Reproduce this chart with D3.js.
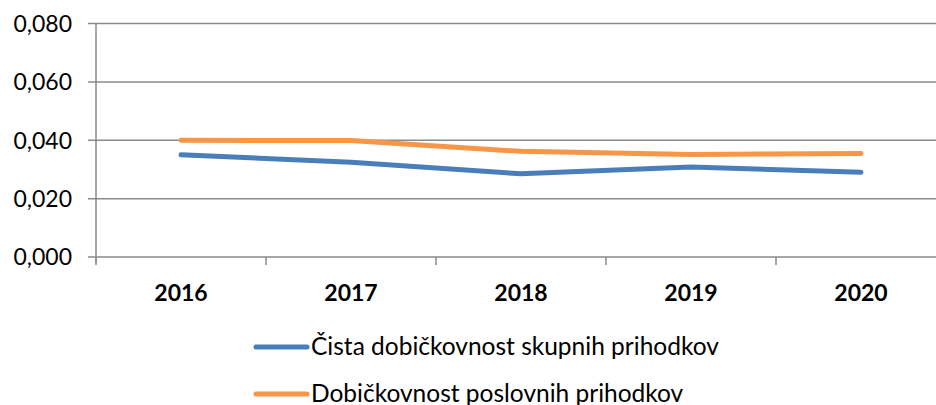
<!DOCTYPE html>
<html>
<head>
<meta charset="utf-8">
<script src="https://cdn.jsdelivr.net/npm/d3@7"></script>
<style>
  body { margin: 0; background: #fff; }
  svg { display: block; font-family: Lato, "Open Sans", sans-serif; }
</style>
</head>
<body>
<div id="chart"></div>
<script>
const years = ["2016", "2017", "2018", "2019", "2020"];
const netProfitability = [0.0350, 0.0325, 0.0285, 0.0308, 0.0290];
const operatingProfitability = [0.0400, 0.0399, 0.0362, 0.0351, 0.0355];
const seriesNames = ["Čista dobičkovnost skupnih prihodkov", "Dobičkovnost poslovnih prihodkov"];
const seriesColors = ["#4a7ebb", "#f79646"];
const yTicks = [0, 0.02, 0.04, 0.06, 0.08];

const width = 936, height = 405;
const margin = { left: 96, right: -10, top: 23.5, bottom: 148 };

const svg = d3.select("#chart").append("svg")
  .attr("width", width)
  .attr("height", height);

const x = d3.scaleBand().domain(years).range([margin.left, width - margin.right]);
const y = d3.scaleLinear().domain([0, 0.08]).range([height - margin.bottom, margin.top]);

const locale = d3.formatLocale({ decimal: ",", thousands: ".", grouping: [3], currency: ["", "€"] });
const fmt = locale.format(".3f");

const gridColor = "#8a8a8a";

// horizontal gridlines + y tick marks
svg.append("g")
  .selectAll("line")
  .data(yTicks)
  .join("line")
  .attr("x1", margin.left - 8)
  .attr("x2", width)
  .attr("y1", d => y(d))
  .attr("y2", d => y(d))
  .style("stroke", gridColor)
  .style("stroke-width", 1.5);

// y labels
svg.append("g")
  .selectAll("text")
  .data(yTicks)
  .join("text")
  .attr("x", margin.left - 24)
  .attr("y", d => y(d))
  .attr("dy", "0.36em")
  .attr("text-anchor", "end")
  .style("font-size", "23px")
  .style("fill", "#000")
  .text(d => fmt(d));

// y axis line
svg.append("line")
  .attr("x1", margin.left).attr("x2", margin.left)
  .attr("y1", y(0.08)).attr("y2", y(0) + 6)
  .style("stroke", gridColor)
  .style("stroke-width", 1.5);

// x tick marks at category boundaries
const boundaries = years.map(d => x(d)).concat([x(years[years.length - 1]) + x.bandwidth()]);
svg.append("g")
  .selectAll("line")
  .data(boundaries)
  .join("line")
  .attr("x1", d => d).attr("x2", d => d)
  .attr("y1", y(0))
  .attr("y2", y(0) + 8)
  .style("stroke", gridColor)
  .style("stroke-width", 1.5);

// x labels
svg.append("g")
  .selectAll("text")
  .data(years)
  .join("text")
  .attr("x", d => x(d) + x.bandwidth() / 2)
  .attr("y", 301)
  .attr("text-anchor", "middle")
  .style("font-size", "23px")
  .style("font-weight", "bold")
  .style("fill", "#000")
  .text(d => d);

// series lines
const line = d3.line()
  .x((d, i) => x(years[i]) + x.bandwidth() / 2)
  .y(d => y(d));

[netProfitability, operatingProfitability].forEach((values, i) => {
  svg.append("path")
    .datum(values)
    .attr("d", line)
    .style("fill", "none")
    .style("stroke", seriesColors[i])
    .style("stroke-width", 5)
    .style("stroke-linecap", "round")
    .style("stroke-linejoin", "round");
});

// legend
const legend = svg.append("g");
const legendY = [347, 394];
seriesNames.forEach((name, i) => {
  legend.append("line")
    .attr("x1", 256).attr("x2", 307)
    .attr("y1", legendY[i]).attr("y2", legendY[i])
    .style("stroke", seriesColors[i])
    .style("stroke-width", 5)
    .style("stroke-linecap", "round");
  legend.append("text")
    .attr("x", 311)
    .attr("y", legendY[i] + 8)
    .style("font-size", "24.5px")
    .style("fill", "#000")
    .text(name);
});
</script>
</body>
</html>
